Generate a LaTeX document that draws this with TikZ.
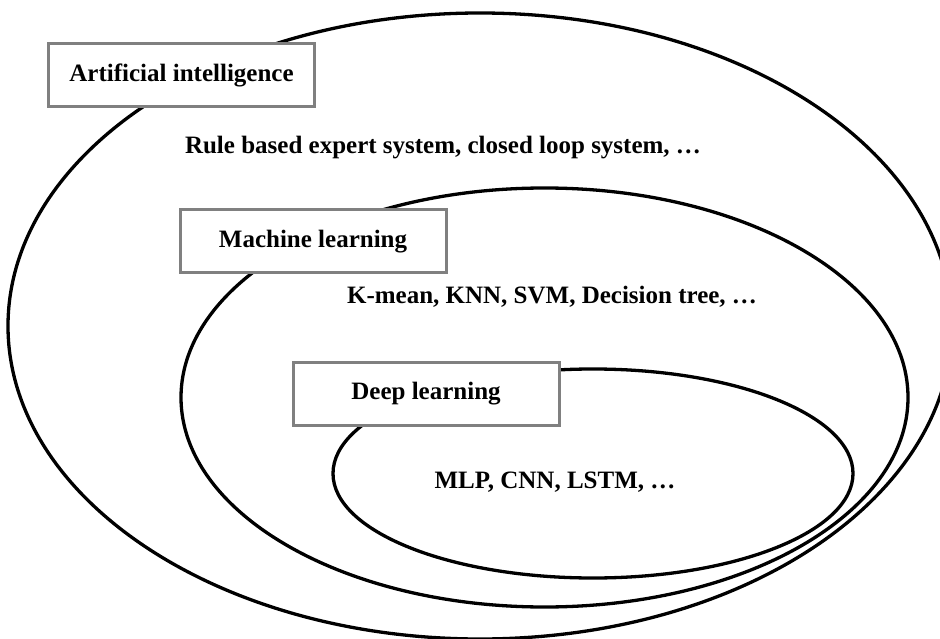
\documentclass[tikz,border=0pt]{standalone}
\usepackage{fontspec}
\setmainfont{Liberation Serif}
\usepackage{tikz}
\definecolor{boxgray}{RGB}{128,128,128}
\tikzset{
  fieldbox/.style={draw=boxgray, line width=3pt, fill=white, minimum width=266pt, minimum height=63pt, inner sep=0pt, font=\fontsize{25}{30}\selectfont\bfseries},
  fieldtext/.style={inner sep=0pt, font=\fontsize{25}{30}\selectfont\bfseries},
  fieldline/.style={line width=3.3pt, black}
}

\begin{document}
\begin{tikzpicture}[x=1pt, y=-1pt]
    \useasboundingbox (0, 0) rectangle (940, 639);

    % nested fields
    \draw[fieldline] (480, 326) ellipse [x radius=472, y radius=313];
    \draw[fieldline] (544.5, 397.5) ellipse [x radius=363.5, y radius=209.5];
    \draw[fieldline] (593, 473.5) ellipse [x radius=260, y radius=104.5];

    % titles
    \node[fieldbox] (ai) at (181.5, 75.5) {Artificial intelligence};
    \node[fieldbox] (ml) at (313, 241.5) {Machine learning};
    \node[fieldbox] (dl) at (426, 393.5) {Deep learning};

    % examples
    \node[fieldtext] (aiex) at (443, 148) {Rule based expert system, closed loop system, …};
    \node[fieldtext] (mlex) at (552, 297) {K-mean, KNN, SVM, Decision tree, …};
    \node[fieldtext] (dlex) at (555, 482) {MLP, CNN, LSTM, …};
\end{tikzpicture}
\end{document}
